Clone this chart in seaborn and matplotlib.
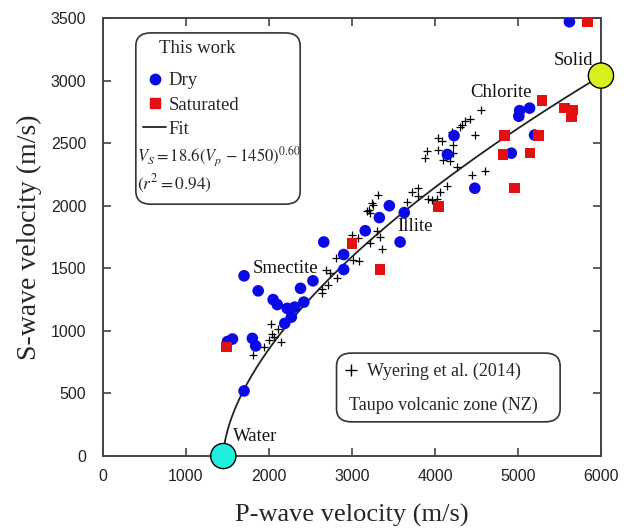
import numpy as np
import pandas as pd
import matplotlib
matplotlib.use('Agg')
import matplotlib.pyplot as plt
import seaborn as sns
from matplotlib.patches import FancyBboxPatch
from matplotlib.lines import Line2D

# ---------------- data ----------------
dry_vp = [1700, 1500, 1560, 1800, 1840, 1700, 1870, 2050, 2100, 2220, 2310, 2420,
          2270, 2190, 2380, 2530, 2660, 2900, 2900, 3160, 3330, 3450, 3630, 3580,
          4150, 4230, 4480, 4920, 5020, 5010, 5140, 5200, 5620]
dry_vs = [520, 915, 935, 940, 880, 1440, 1320, 1250, 1210, 1180, 1190, 1230,
          1110, 1060, 1340, 1400, 1710, 1490, 1610, 1800, 1905, 2000, 1945, 1710,
          2410, 2560, 2140, 2420, 2760, 2715, 2780, 2565, 3470]

sat_vp = [1490, 3000, 3340, 4040, 4840, 4820, 4960, 5290, 5250, 5145, 5560, 5660, 5645, 5840]
sat_vs = [870, 1700, 1490, 1995, 2560, 2410, 2140, 2840, 2560, 2420, 2780, 2765, 2715, 3470]

wy_vp = [1810, 1940, 1995, 2150, 2040, 2110, 2030, 2060,
         2640, 2640, 2715, 2825, 2735, 2690, 2810, 3016, 3090,
         3000, 3076, 3220, 3357, 3337, 3297,
         3180, 3220, 3200, 3250, 3240, 3317,
         3660, 3720, 3800, 3800, 3920, 3970, 4020, 4060, 4140,
         3880, 3900, 4040, 4040, 4080, 4100, 4180, 4220, 4220, 4200, 4260,
         4300, 4320, 4360, 4420, 4482, 4442, 4602, 4555]
wy_vs = [810, 872, 930, 912, 975, 1012, 1058, 950,
         1300, 1332, 1368, 1425, 1461, 1486, 1585, 1568, 1555,
         1765, 1745, 1701, 1653, 1752, 1795,
         1955, 1940, 1968, 2005, 2021, 2088,
         2030, 2110, 2145, 2075, 2055, 2045, 2055, 2110, 2155,
         2385, 2434, 2448, 2541, 2514, 2368, 2355, 2488, 2421, 2586, 2307,
         2629, 2648, 2675, 2693, 2568, 2248, 2275, 2765]

end_names = ['Water', 'Solid']
end_vp = [1450, 6000]
end_vs = [0, 3040]
end_colors = ['#22eedd', '#d8f020']

# fit curve parameters (drawn curve Vs = a (Vp - x0)^b)
fit_a = 19.4
fit_x0 = 1450
fit_b = 0.60

labels_txt = ['Water', 'Smectite', 'Illite', 'Chlorite', 'Solid']
labels_x = [1566, 1807, 3542, 4422, 5434]
labels_y = [152, 1496, 1832, 2904, 3160]

xticks = [0, 1000, 2000, 3000, 4000, 5000, 6000]
yticks = [0, 500, 1000, 1500, 2000, 2500, 3000, 3500]

# ---------------- style ----------------
sns.set_style('ticks')
plt.rcParams['font.family'] = ['Liberation Serif', 'DejaVu Serif']
plt.rcParams['mathtext.fontset'] = 'stix'

SERIF = 'Liberation Serif'
SANS = 'Liberation Sans'
BLUE = '#0a0ae6'
RED = '#e21010'
EDGE = '#444444'

fig = plt.figure(figsize=(6.26, 5.30), dpi=100)
ax = fig.add_axes([0.1645, 0.1396, 0.7955, 0.8264])

# fit curve
fx = np.linspace(fit_x0, end_vp[1], 400)
fy = fit_a * (fx - fit_x0) ** fit_b
sns.lineplot(x=fx, y=fy, color='#222222', lw=1.3, ax=ax, zorder=2)

# Wyering data
sns.scatterplot(x=wy_vp, y=wy_vs, marker='+', s=28, color='black',
                linewidth=0.9, ax=ax, zorder=3)
# Dry
sns.scatterplot(x=dry_vp, y=dry_vs, marker='o', s=70, color=BLUE,
                edgecolor='none', ax=ax, zorder=4)
# Saturated
sns.scatterplot(x=sat_vp, y=sat_vs, marker='s', s=58, color=RED,
                edgecolor='none', ax=ax, zorder=5)
# end members
sns.scatterplot(x=end_vp, y=end_vs, hue=end_names, palette=end_colors,
                marker='o', s=330, edgecolor='black', linewidth=1.0,
                ax=ax, zorder=10, legend=False)
ax.collections[-1].set_clip_on(False)

for t, x, y in zip(labels_txt, labels_x, labels_y):
    ax.text(x, y, t, fontsize=13.5, family=SERIF, ha='left', va='center',
            color='#111111', zorder=6)

ax.set_xlim(0, 6000)
ax.set_ylim(0, 3500)
ax.set_xticks(xticks)
ax.set_yticks(yticks)
ax.set_xticklabels([str(v) for v in xticks], family=SANS, fontsize=11.5)
ax.set_yticklabels([str(v) for v in yticks], family=SANS, fontsize=11.5)
ax.tick_params(direction='in', length=6, width=1.2, colors=EDGE,
               top=True, right=True, labelcolor='#222222')
ax.tick_params(axis='x', pad=9)
ax.tick_params(axis='y', pad=12)
for sp in ax.spines.values():
    sp.set_color(EDGE)
    sp.set_linewidth(1.4)

ax.set_xlabel('P-wave velocity (m/s)', fontsize=19, family=SERIF, labelpad=15)
ax.set_ylabel('S-wave velocity (m/s)', fontsize=20, family=SERIF, labelpad=6)

# ---------------- legend box 1 ----------------
box1 = FancyBboxPatch((0.066 + 0.03, 0.575 + 0.03), 0.330 - 0.06, 0.391 - 0.06,
                      boxstyle='round,pad=0.03', transform=ax.transAxes,
                      facecolor='white', edgecolor='#333333', lw=1.2, zorder=7)
ax.add_patch(box1)
ax.text(0.189, 0.930, 'This work', transform=ax.transAxes, fontsize=13.5,
        family=SERIF, ha='center', va='center', zorder=8)
handles = [Line2D([], [], marker='o', ls='none', color=BLUE, markersize=7.5),
           Line2D([], [], marker='s', ls='none', color=RED, markersize=7),
           Line2D([], [], color='#222222', lw=1.3)]
leg = ax.legend(handles, ['Dry', 'Saturated', 'Fit'],
                loc='upper left', bbox_to_anchor=(0.080, 0.876), frameon=False,
                prop={'family': SERIF, 'size': 13.5},
                handlelength=1.25, handletextpad=0.12, labelspacing=0.38,
                borderaxespad=0, borderpad=0)
leg.set_zorder(8)
ax.add_artist(leg)
ax.text(0.069, 0.685, r'$V_S=18.6(V_p\,-1450)^{0.60}$', transform=ax.transAxes,
        fontsize=12, ha='left', va='center', zorder=8)
ax.text(0.069, 0.622, r'$(r^2=0.94)$', transform=ax.transAxes,
        fontsize=12.5, ha='left', va='center', zorder=8)

# ---------------- legend box 2 ----------------
box2 = FancyBboxPatch((0.469 + 0.03, 0.078 + 0.03), 0.449 - 0.06, 0.157 - 0.06,
                      boxstyle='round,pad=0.03', transform=ax.transAxes,
                      facecolor='white', edgecolor='#333333', lw=1.2, zorder=7)
ax.add_patch(box2)
leg2 = ax.legend([Line2D([], [], marker='+', ls='none', color='black', markersize=8, mew=1.0)],
                 ['Wyering et al. (2014)'], loc='center left',
                 bbox_to_anchor=(0.480, 0.1925), frameon=False,
                 prop={'family': SERIF, 'size': 13}, handlelength=1.0,
                 handletextpad=0.4, borderaxespad=0, borderpad=0)
leg2.set_zorder(8)
ax.text(0.494, 0.1164, 'Taupo volcanic zone (NZ)', transform=ax.transAxes,
        fontsize=13, family=SERIF, ha='left', va='center', zorder=8)

fig.savefig('out.png', dpi=100)
